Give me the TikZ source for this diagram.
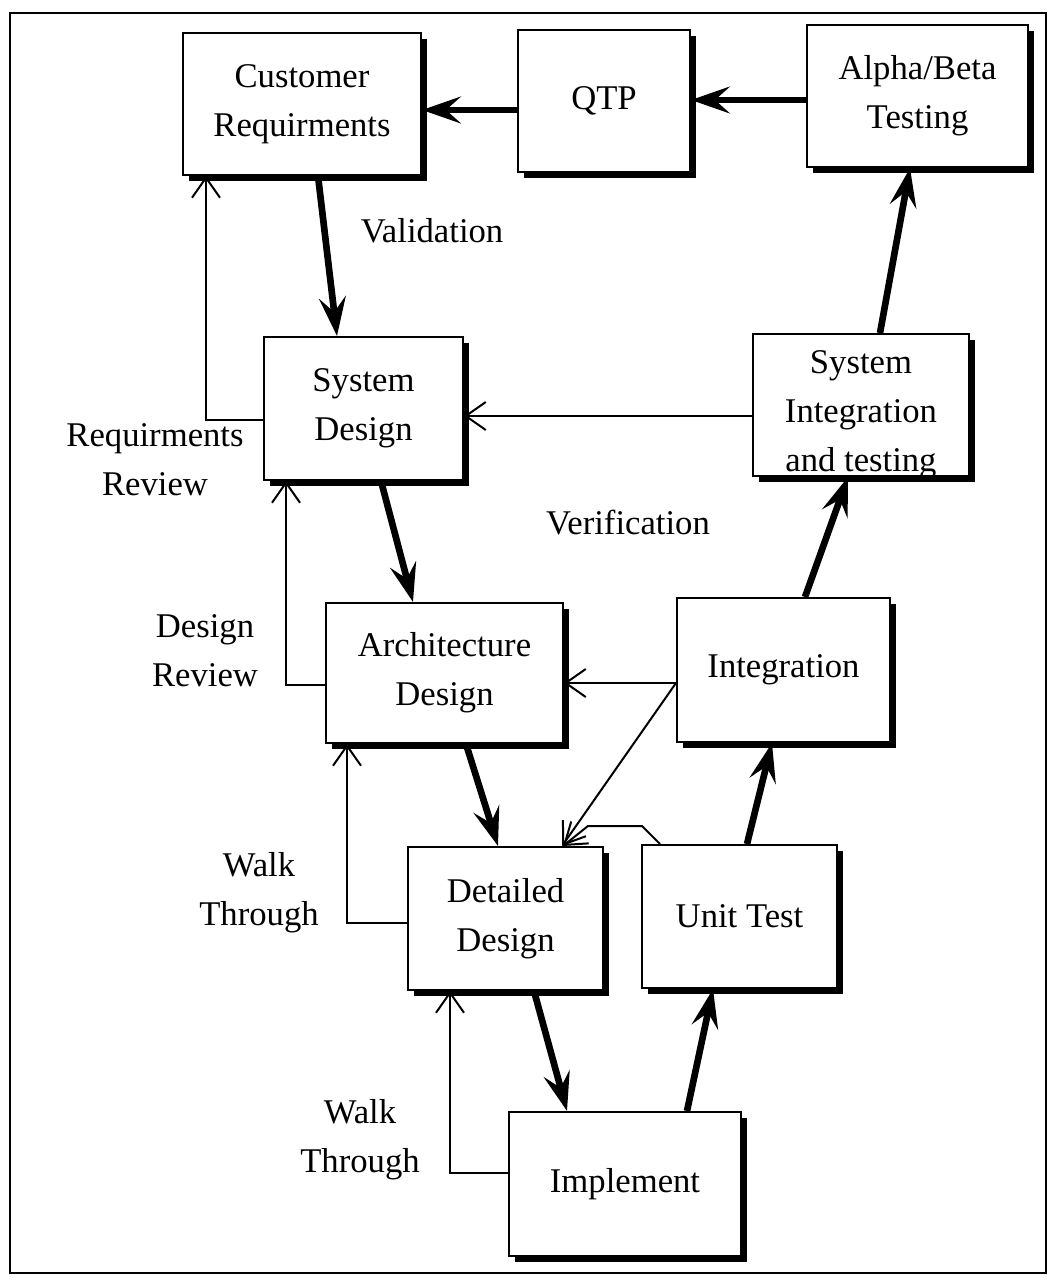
\documentclass[tikz,border=0pt]{standalone}
\usepackage{fontspec}
\setmainfont{Liberation Serif}
\usetikzlibrary{arrows.meta,shadows}
\begin{document}
\begin{tikzpicture}[x=0.75pt,y=-0.75pt,
  box/.style={draw,line width=1.5pt,fill=white,align=center,inner sep=0pt,
    font=\fontsize{26}{36.75}\selectfont,
    drop shadow={shadow xshift=4.5pt,shadow yshift=-4.5pt,fill=black,opacity=1}},
  lbl/.style={align=center,inner sep=0pt,font=\fontsize{26}{36.75}\selectfont},
  thk/.style={line width=5pt,-{Stealth[length=29pt,width=20pt,inset=11pt]}},
  thn/.style={line width=1.5pt,-{Straight Barb[length=15pt,width=21pt]}}]
\useasboundingbox (0,0) rectangle (1049,1281);
\draw[line width=1.5pt] (10,13) rectangle (1046,1273);

\node[box,minimum width=178.5pt,minimum height=106.5pt] (cust) at (302,104) {Customer\\Requirments};
\node[box,minimum width=129pt,minimum height=106.5pt] (qtp) at (604,101) {QTP};
\node[box,minimum width=165.75pt,minimum height=106.5pt] (alpha) at (917.5,96) {Alpha/Beta\\Testing};
\node[box,minimum width=149.25pt,minimum height=107.25pt] (sysd) at (363.5,408.5) {System\\Design};
\node[box,minimum width=162pt,minimum height=106.5pt,
  label={[lbl,yshift=-7pt]center:System\\Integration\\and testing}] (sysint) at (861,405) {};
\node[box,minimum width=177.75pt,minimum height=105pt] (arch) at (444.5,673) {Architecture\\Design};
\node[box,minimum width=159.75pt,minimum height=108pt] (integ) at (783.5,670) {Integration};
\node[box,minimum width=146.25pt,minimum height=107.25pt] (dd) at (505.5,918.5) {Detailed\\Design};
\node[box,minimum width=146.25pt,minimum height=107.25pt] (unit) at (739.5,916.5) {Unit Test};
\node[box,minimum width=174pt,minimum height=108pt] (impl) at (625,1184) {Implement};

\node[lbl] (reqrev) at (155,460) {Requirments\\Review};
\node[lbl] (desrev) at (205,651) {Design\\Review};
\node[lbl] (walk1) at (259,893) {Walk\\Through};
\node[lbl] (walk2) at (360,1140) {Walk\\Through};
\node[lbl] (valid) at (432,231) {Validation};
\node[lbl] (verif) at (628,523) {Verification};

% thick main flow
\draw[thk] (qtp.west |- 0,110) -- (cust.east |- 0,110);
\draw[thk] (alpha.west |- 0,100) -- (qtp.east |- 0,100);
\draw[thk] (cust.south -| 318,0) -- (sysd.north -| 337,0);
\draw[thk] (sysd.south -| 381,0) -- (arch.north -| 413,0);
\draw[thk] (arch.south -| 466,0) -- (dd.north -| 498,0);
\draw[thk] (dd.south -| 534,0) -- (impl.north -| 567,0);
\draw[thk] (impl.north -| 687,0) -- (unit.south -| 713,0);
\draw[thk] (unit.north -| 747,0) -- (integ.south -| 772,0);
\draw[thk] (integ.north -| 805,0) -- (sysint.south -| 848,0);
\draw[thk] (sysint.north -| 880,0) -- (alpha.south -| 910,0);

% thin feedback
\draw[thn] (sysint.west |- 0,416) -- (sysd.east |- 0,416);
\draw[thn] (integ.west |- 0,683) -- (arch.east |- 0,683);
\draw[thn] (integ.west |- 0,683) -- (dd.north -| 562,0);
\draw[thn] (unit.north -| 660,0) -- (642,826) -- (588,826) -- (dd.north -| 563,0);
\draw[thn] (sysd.west |- 0,420) -| (cust.south -| 206,0);
\draw[thn] (arch.west |- 0,685) -| (sysd.south -| 286,0);
\draw[thn] (dd.west |- 0,923) -| (arch.south -| 347,0);
\draw[thn] (impl.west |- 0,1173) -| (dd.south -| 450,0);
\end{tikzpicture}
\end{document}
